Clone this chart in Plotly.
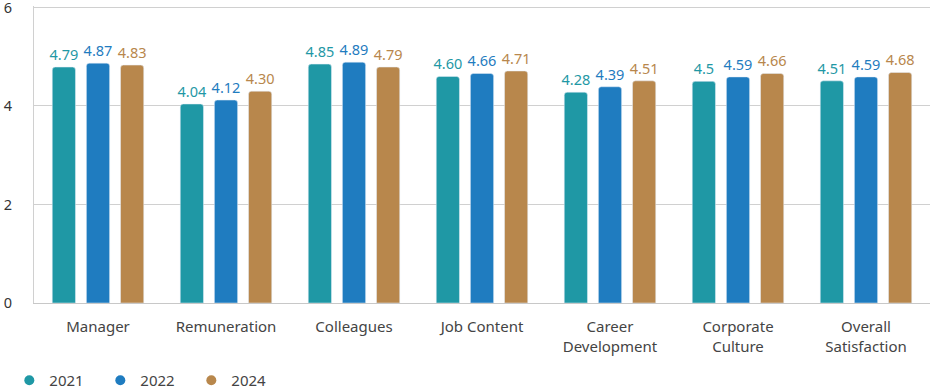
import plotly.graph_objects as go

categories = ["Manager", "Remuneration", "Colleagues", "Job Content",
              "Career<br>Development", "Corporate<br>Culture", "Overall<br>Satisfaction"]
years = ["2021", "2022", "2024"]
v2021 = [4.79, 4.04, 4.85, 4.60, 4.28, 4.5, 4.51]
v2022 = [4.87, 4.12, 4.89, 4.66, 4.39, 4.59, 4.59]
v2024 = [4.83, 4.30, 4.79, 4.71, 4.51, 4.66, 4.68]
t2021 = ["4.79", "4.04", "4.85", "4.60", "4.28", "4.5", "4.51"]
t2022 = ["4.87", "4.12", "4.89", "4.66", "4.39", "4.59", "4.59"]
t2024 = ["4.83", "4.30", "4.79", "4.71", "4.51", "4.66", "4.68"]
colors = ["#1f98a5", "#1f7cc0", "#b8874c"]
tick_vals = [0, 2, 4, 6]

FONT = "Source Sans Pro, Noto Sans, sans-serif"
fig = go.Figure()
for name, vals, txt, col in zip(years, [v2021, v2022, v2024], [t2021, t2022, t2024], colors):
    fig.add_trace(go.Bar(
        x=categories, y=vals, text=txt, textposition="outside",
        textfont=dict(color=col, size=14.5, family=FONT), constraintext="none",
        marker=dict(color=col, cornerradius=3), name=name, showlegend=False,
        cliponaxis=False, hoverinfo="skip"))
for name, col in zip(years, colors):
    fig.add_trace(go.Scatter(x=[None], y=[None], mode="markers", name=name,
                             marker=dict(color=col, size=10, symbol="circle")))

fig.update_layout(
    width=931, height=391,
    margin=dict(l=34, r=1, t=6, b=88, autoexpand=False),
    plot_bgcolor="white", paper_bgcolor="white",
    barmode="group", bargap=0.2, bargroupgap=0.32,
    font=dict(family=FONT, size=15, color="#444"),
    legend=dict(orientation="h", xref="container", x=0.01, xanchor="left",
                yref="container", y=0.027, yanchor="middle",
                font=dict(size=15, color="#444"), itemwidth=30,
                entrywidth=46, entrywidthmode="pixels",
                traceorder="normal"),
)
fig.update_yaxes(range=[0, 6.03], tickvals=tick_vals, showgrid=True, gridcolor="#d0d0d0",
                 showline=True, linecolor="#d0d0d0", zeroline=False, automargin=False,
                 tickfont=dict(size=14.5, color="#333"), ticks="", ticklabelstandoff=18,
                 ticklabeloverflow="allow")
fig.update_xaxes(showline=True, linecolor="#c8c8c8", tickfont=dict(size=15, color="#444"),
                 ticks="", ticklabelstandoff=10, automargin=False)
fig.write_html("out.html", config={"displayModeBar": False},
               post_script="document.body.style.margin='0';")
